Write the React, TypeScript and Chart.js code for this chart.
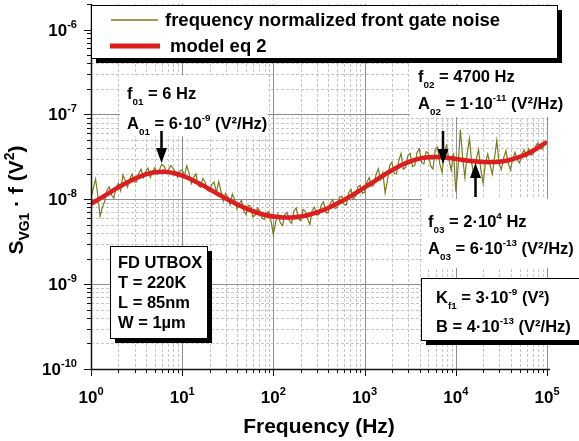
import React, { useEffect, useRef } from 'react';
import { Chart, registerables } from 'chart.js';

Chart.register(...registerables);

// ---- data (frequency in Hz, S_VG1·f in V²) ----
const FREQ = [
  1, 1.059, 1.122, 1.189, 1.259, 1.334, 1.413, 1.496, 1.585, 1.679, 1.778, 1.884, 1.995, 2.113, 2.239, 2.371, 2.512, 2.661, 2.818, 2.985,
  3.162, 3.35, 3.548, 3.758, 3.981, 4.217, 4.467, 4.732, 5.012, 5.309, 5.623, 5.957, 6.31, 6.683, 7.079, 7.499, 7.943, 8.414, 8.913, 9.441,
  10, 10.59, 11.22, 11.89, 12.59, 13.34, 14.13, 14.96, 15.85, 16.79, 17.78, 18.84, 19.95, 21.13, 22.39, 23.71, 25.12, 26.61, 28.18, 29.85,
  31.62, 33.5, 35.48, 37.58, 39.81, 42.17, 44.67, 47.32, 50.12, 53.09, 56.23, 59.57, 63.1, 66.83, 70.79, 74.99, 79.43, 84.14, 89.13, 94.41,
  100, 105.9, 112.2, 118.9, 125.9, 133.4, 141.3, 149.6, 158.5, 167.9, 177.8, 188.4, 199.5, 211.3, 223.9, 237.1, 251.2, 266.1, 281.8, 298.5,
  316.2, 335, 354.8, 375.8, 398.1, 421.7, 446.7, 473.2, 501.2, 530.9, 562.3, 595.7, 631, 668.3, 707.9, 749.9, 794.3, 841.4, 891.3, 944.1,
  1000, 1059, 1122, 1189, 1259, 1334, 1413, 1496, 1585, 1679, 1778, 1884, 1995, 2113, 2239, 2371, 2512, 2661, 2818, 2985,
  3162, 3350, 3548, 3758, 3981, 4217, 4467, 4732, 5012, 5309, 5623, 5957, 6310, 6683, 7079, 7499, 7943, 8414, 8913, 9441,
  10000, 10590, 11220, 11890, 12590, 13340, 14130, 14960, 15850, 16790, 17780, 18840, 19950, 21130, 22390, 23710, 25120, 26610, 28180, 29850,
  31620, 33500, 35480, 37580, 39810, 42170, 44670, 47320, 50120, 53090, 56230, 59570, 63100, 66830, 70790, 74990, 79430, 84140, 89130, 94410,
  100000,
];
const SPECTRUM = [
  10.1e-9, 13.5e-9, 17.3e-9, 11.0e-9, 6.3e-9, 8.1e-9, 9.4e-9, 12.8e-9, 14.0e-9, 11.2e-9, 10.3e-9, 13.9e-9, 15.4e-9, 12.6e-9, 19.4e-9, 16.8e-9, 13.9e-9, 17.2e-9, 19.8e-9, 15.9e-9,
  16.0e-9, 20.4e-9, 22.6e-9, 17.9e-9, 21.3e-9, 23.4e-9, 18.1e-9, 21.0e-9, 23.6e-9, 20.1e-9, 22.1e-9, 25.8e-9, 24.7e-9, 21.0e-9, 22.4e-9, 25.0e-9, 23.1e-9, 20.9e-9, 18.1e-9, 21.5e-9,
  22.3e-9, 19.0e-9, 24.9e-9, 20.5e-9, 15.3e-9, 18.0e-9, 19.9e-9, 14.6e-9, 13.9e-9, 17.5e-9, 16.1e-9, 12.8e-9, 12.4e-9, 14.9e-9, 16.0e-9, 11.9e-9, 16.2e-9, 12.5e-9, 9.5e-9, 11.8e-9,
  10.7e-9, 8.6e-9, 11.5e-9, 9.9e-9, 7.7e-9, 8.9e-9, 9.7e-9, 7.3e-9, 6.6e-9, 8.5e-9, 8.3e-9, 6.2e-9, 6.5e-9, 7.9e-9, 7.2e-9, 6.0e-9, 5.8e-9, 6.9e-9, 7.2e-9, 5.5e-9,
  3.8e-9, 5.4e-9, 6.7e-9, 5.3e-9, 4.9e-9, 6.6e-9, 7.0e-9, 5.6e-9, 5.2e-9, 7.3e-9, 7.9e-9, 5.9e-9, 5.6e-9, 7.6e-9, 7.2e-9, 5.9e-9, 5.05e-9, 7.4e-9, 8.1e-9, 6.5e-9,
  6.6e-9, 8.6e-9, 9.3e-9, 7.0e-9, 6.9e-9, 9.0e-9, 9.9e-9, 7.8e-9, 8.0e-9, 10.6e-9, 10.9e-9, 8.7e-9, 8.6e-9, 11.9e-9, 13.2e-9, 10.0e-9, 10.9e-9, 13.9e-9, 14.6e-9, 11.8e-9,
  12.1e-9, 15.9e-9, 18.0e-9, 14.2e-9, 14.5e-9, 19.6e-9, 22.9e-9, 17.0e-9, 20.6e-9, 11.9e-9, 16.5e-9, 24.8e-9, 27.3e-9, 20.1e-9, 19.9e-9, 28.6e-9, 34.8e-9, 22.6e-9, 23.8e-9, 33.0e-9,
  34.7e-9, 24.3e-9, 25.0e-9, 35.6e-9, 39.5e-9, 27.0e-9, 26.1e-9, 36.4e-9, 34.9e-9, 24.5e-9, 22.7e-9, 38.8e-9, 41.2e-9, 26.0e-9, 20.8e-9, 36.5e-9, 43.2e-9, 29.0e-9, 21.9e-9, 35.3e-9,
  12.3e-9, 24.0e-9, 66.2e-9, 30.5e-9, 18.0e-9, 35.0e-9, 51.8e-9, 26.5e-9, 18.7e-9, 30.2e-9, 38.4e-9, 22.0e-9, 15.4e-9, 27.0e-9, 34.1e-9, 25.6e-9, 19.8e-9, 30.8e-9, 49.3e-9, 26.0e-9,
  22.5e-9, 31.0e-9, 37.4e-9, 26.4e-9, 22.3e-9, 30.3e-9, 35.7e-9, 29.0e-9, 26.8e-9, 34.4e-9, 38.1e-9, 31.6e-9, 39.2e-9, 33.0e-9, 34.8e-9, 42.0e-9, 46.2e-9, 39.5e-9, 39.1e-9, 46.0e-9,
  46.2e-9,
];
const MODEL_FREQ = [
  1, 1.259, 1.585, 1.995, 2.512, 3.162, 3.981, 5.012, 6.31, 7.943,
  10, 12.59, 15.85, 19.95, 25.12, 31.62, 39.81, 50.12, 63.1, 79.43,
  100, 125.9, 158.5, 199.5, 251.2, 316.2, 398.1, 501.2, 631, 794.3,
  1000, 1259, 1585, 1995, 2512, 3162, 3981, 5012, 6310, 7943,
  10000, 12590, 15850, 19950, 25120, 31620, 39810, 50120, 63100, 79430,
  100000,
];
const MODEL = [
  8.85e-9, 10.25e-9, 11.91e-9, 13.8e-9, 15.85e-9, 17.88e-9, 19.63e-9, 20.76e-9, 21.04e-9, 20.39e-9,
  18.98e-9, 17.11e-9, 15.08e-9, 13.13e-9, 11.38e-9, 9.91e-9, 8.73e-9, 7.8e-9, 7.08e-9, 6.58e-9,
  6.25e-9, 6.1e-9, 6.1e-9, 6.27e-9, 6.62e-9, 7.15e-9, 7.89e-9, 8.89e-9, 10.17e-9, 11.79e-9,
  13.78e-9, 16.17e-9, 18.95e-9, 21.99e-9, 25.12e-9, 27.95e-9, 30.12e-9, 31.33e-9, 31.52e-9, 30.92e-9,
  29.91e-9, 28.86e-9, 28.0e-9, 27.48e-9, 27.4e-9, 27.91e-9, 29.2e-9, 31.55e-9, 35.18e-9, 40.38e-9,
  47.51e-9,
];
const X_EXP = [0, 1, 2, 3, 4, 5];
const Y_EXP = [-10, -9, -8, -7, -6];
const X_MIN = 1;
const X_MAX = 1e5;
const Y_MIN = 1e-10;
const Y_MAX = 2e-6;
const SERIES_NAMES = ['frequency normalized front gate noise', 'model eq 2'];
const X_TITLE = 'Frequency (Hz)';
const INFO_LINES = ['FD UTBOX', 'T = 220K', 'L = 85nm', 'W = 1µm'];

const OLIVE = '#7a7a1a';
const RED = '#dc1e1e';
const FONT = "'Liberation Sans', Arial, Helvetica, sans-serif";

type Part = [string, number]; // 0 normal, 1 superscript, 2 subscript

function drawRich(
  ctx: CanvasRenderingContext2D,
  x: number,
  y: number,
  parts: Part[],
  size: number,
  align: 'left' | 'center' | 'right' = 'left',
  supUp = 0.5,
  subDown = 0.33,
  small = 0.64,
) {
  const sm = size * small;
  let w = 0;
  for (const [t, k] of parts) {
    ctx.font = `bold ${k ? sm : size}px ${FONT}`;
    w += ctx.measureText(t).width;
  }
  let cx = align === 'center' ? x - w / 2 : align === 'right' ? x - w : x;
  ctx.textAlign = 'left';
  ctx.textBaseline = 'alphabetic';
  for (const [t, k] of parts) {
    ctx.font = `bold ${k ? sm : size}px ${FONT}`;
    const dy = k === 1 ? -size * supUp : k === 2 ? size * subDown : 0;
    ctx.fillText(t, cx, y + dy);
    cx += ctx.measureText(t).width;
  }
}

function arrow(ctx: CanvasRenderingContext2D, x: number, y0: number, y1: number) {
  const dir = y1 > y0 ? 1 : -1;
  const headLen = 15;
  const headW = 5.5;
  ctx.strokeStyle = '#000';
  ctx.lineWidth = 2.5;
  ctx.beginPath();
  ctx.moveTo(x, y0);
  ctx.lineTo(x, y1 - dir * headLen);
  ctx.stroke();
  ctx.fillStyle = '#000';
  ctx.beginPath();
  ctx.moveTo(x, y1);
  ctx.lineTo(x - headW, y1 - dir * headLen);
  ctx.lineTo(x + headW, y1 - dir * headLen);
  ctx.closePath();
  ctx.fill();
}

function shadowBox(ctx: CanvasRenderingContext2D, x: number, y: number, w: number, h: number, off: number) {
  ctx.fillStyle = '#000';
  ctx.fillRect(x + off, y + off, w, h);
  ctx.fillStyle = '#fff';
  ctx.fillRect(x, y, w, h);
  ctx.strokeStyle = '#000';
  ctx.lineWidth = 1;
  ctx.strokeRect(x + 0.5, y + 0.5, w, h);
}

const decor = {
  id: 'decor',
  beforeDatasetsDraw(chart: any) {
    const ctx: CanvasRenderingContext2D = chart.ctx;
    const xs = chart.scales.x;
    const ys = chart.scales.y;
    const ca = chart.chartArea;
    ctx.save();
    ctx.beginPath();
    ctx.rect(ca.left, ca.top, ca.right - ca.left + 1, ca.bottom - ca.top);
    ctx.clip();
    // minor grid
    ctx.strokeStyle = '#c6c6c6';
    ctx.lineWidth = 1;
    ctx.setLineDash([3, 2]);
    ctx.beginPath();
    for (const e of X_EXP) {
      for (let m = 2; m <= 9; m++) {
        const v = m * Math.pow(10, e);
        if (v > X_MAX) continue;
        const px = Math.round(xs.getPixelForValue(v)) + 0.5;
        ctx.moveTo(px, ca.top);
        ctx.lineTo(px, ca.bottom);
      }
    }
    for (const e of Y_EXP) {
      for (let m = 2; m <= 9; m++) {
        const v = m * Math.pow(10, e);
        if (v >= Y_MAX) continue;
        const py = Math.round(ys.getPixelForValue(v)) + 0.5;
        ctx.moveTo(ca.left, py);
        ctx.lineTo(ca.right, py);
      }
    }
    ctx.stroke();
    // major grid
    ctx.setLineDash([]);
    ctx.strokeStyle = '#8e8e8e';
    ctx.beginPath();
    for (const e of X_EXP) {
      const px = Math.round(xs.getPixelForValue(Math.pow(10, e))) + 0.5;
      ctx.moveTo(px, ca.top);
      ctx.lineTo(px, ca.bottom);
    }
    for (const e of Y_EXP) {
      const py = Math.round(ys.getPixelForValue(Math.pow(10, e))) + 0.5;
      ctx.moveTo(ca.left, py);
      ctx.lineTo(ca.right, py);
    }
    ctx.stroke();
    ctx.restore();

    // white backgrounds behind annotations
    ctx.save();
    ctx.fillStyle = '#fff';
    ctx.fillRect(120, 75, 148, 61);
    ctx.fillRect(410, 60, 165, 57);
    ctx.fillRect(422, 199, 157, 69);
    ctx.restore();
  },
  afterDatasetsDraw(chart: any) {
    const ctx: CanvasRenderingContext2D = chart.ctx;
    const xs = chart.scales.x;
    const ys = chart.scales.y;
    const ca = chart.chartArea;
    ctx.save();

    // axes lines
    ctx.strokeStyle = '#111';
    ctx.lineWidth = 1.5;
    ctx.beginPath();
    ctx.moveTo(ca.left + 0.5, ca.top);
    ctx.lineTo(ca.left + 0.5, ca.bottom + 0.5);
    ctx.lineTo(ca.right + 3, ca.bottom + 0.5);
    ctx.stroke();

    // ticks
    ctx.lineWidth = 1;
    ctx.beginPath();
    for (const e of X_EXP) {
      for (let m = 1; m <= 9; m++) {
        const v = m * Math.pow(10, e);
        if (v > X_MAX) continue;
        const px = Math.round(xs.getPixelForValue(v)) + 0.5;
        ctx.moveTo(px, ca.bottom);
        ctx.lineTo(px, ca.bottom + (m === 1 ? 7 : 4));
      }
    }
    for (const e of Y_EXP) {
      for (let m = 1; m <= 9; m++) {
        const v = m * Math.pow(10, e);
        if (v > Y_MAX) continue;
        const py = Math.round(ys.getPixelForValue(v)) + 0.5;
        ctx.moveTo(ca.left, py);
        ctx.lineTo(ca.left - (m === 1 ? 7 : 4), py);
      }
    }
    ctx.stroke();

    // tick labels
    ctx.fillStyle = '#000';
    for (const e of X_EXP) {
      const px = xs.getPixelForValue(Math.pow(10, e));
      drawRich(ctx, px, ca.bottom + 34, [['10', 0], [String(e), 1]], 17, 'center', 0.47, 0.3, 0.65);
    }
    for (const e of Y_EXP) {
      const py = ys.getPixelForValue(Math.pow(10, e));
      drawRich(ctx, ca.left - 14, py + 6, [['10', 0], [String(e), 1]], 17, 'right', 0.47, 0.3, 0.65);
    }

    // axis titles
    drawRich(ctx, (ca.left + ca.right) / 2, 433, [[X_TITLE, 0]], 21, 'center');
    ctx.save();
    ctx.translate(23, 200);
    ctx.rotate(-Math.PI / 2);
    drawRich(ctx, 0, 0, [['S', 0], ['VG1', 2], [' · f (V', 0], ['2', 1], [')', 0]], 21, 'center', 0.45, 0.3, 0.66);
    ctx.restore();

    // annotations
    ctx.fillStyle = '#000';
    const S = 16.5;
    drawRich(ctx, 127, 99, [['f', 0], ['01', 2], [' = 6 Hz', 0]], S, 'left', 0.5, 0.36, 0.6);
    drawRich(ctx, 127, 129, [['A', 0], ['01', 2], [' = 6·10', 0], ['-9', 1], [' (V²/Hz)', 0]], S, 'left', 0.5, 0.36, 0.6);
    drawRich(ctx, 418, 82, [['f', 0], ['02', 2], [' = 4700 Hz', 0]], S, 'left', 0.5, 0.36, 0.6);
    drawRich(ctx, 418, 109, [['A', 0], ['02', 2], [' = 1·10', 0], ['-11', 1], [' (V²/Hz)', 0]], S, 'left', 0.5, 0.36, 0.6);
    drawRich(ctx, 428, 227, [['f', 0], ['03', 2], [' = 2·10', 0], ['4', 1], [' Hz', 0]], S, 'left', 0.5, 0.36, 0.6);
    drawRich(ctx, 428, 254, [['A', 0], ['03', 2], [' = 6·10', 0], ['-13', 1], [' (V²/Hz)', 0]], S, 'left', 0.5, 0.36, 0.6);

    arrow(ctx, 161.5, 131, 163);
    arrow(ctx, 443, 131, 164);
    arrow(ctx, 475.5, 197, 163);

    // K / B box
    shadowBox(ctx, 421, 278, 200, 62, 5);
    ctx.fillStyle = '#000';
    drawRich(ctx, 436, 303, [['K', 0], ['f1', 2], [' = 3·10', 0], ['-9', 1], [' (V²)', 0]], S, 'left', 0.5, 0.36, 0.6);
    drawRich(ctx, 436, 332, [['B = 4·10', 0], ['-13', 1], [' (V²/Hz)', 0]], S, 'left', 0.5, 0.36, 0.6);

    // device box
    shadowBox(ctx, 110, 246, 97, 92, 5);
    ctx.fillStyle = '#000';
    INFO_LINES.forEach((t, i) => {
      drawRich(ctx, 118, 268 + i * 20, [[t, 0]], S);
    });

    // legend
    shadowBox(ctx, 91, 5, 466, 53, 5);
    ctx.strokeStyle = OLIVE;
    ctx.lineWidth = 1.5;
    ctx.beginPath();
    ctx.moveTo(111, 20);
    ctx.lineTo(158, 20);
    ctx.stroke();
    ctx.strokeStyle = RED;
    ctx.lineWidth = 5;
    ctx.beginPath();
    ctx.moveTo(110, 46);
    ctx.lineTo(160, 46);
    ctx.stroke();
    ctx.fillStyle = '#000';
    drawRich(ctx, 165, 26, [[SERIES_NAMES[0], 0]], 18.5);
    drawRich(ctx, 170, 52, [[SERIES_NAMES[1], 0]], 18.5);

    ctx.restore();
  },
};

export default function App() {
  const ref = useRef<HTMLCanvasElement>(null);
  useEffect(() => {
    const canvas = ref.current;
    if (!canvas) return;
    const chart = new Chart(canvas, {
      type: 'line',
      data: {
        datasets: [
          {
            label: SERIES_NAMES[1],
            data: MODEL_FREQ.map((f, i) => ({ x: f, y: MODEL[i] })),
            borderColor: RED,
            borderWidth: 4.5,
            pointRadius: 0,
            tension: 0.3,
            order: 0,
          },
          {
            label: SERIES_NAMES[0],
            data: FREQ.map((f, i) => ({ x: f, y: SPECTRUM[i] })),
            borderColor: OLIVE,
            borderWidth: 1.2,
            pointRadius: 0,
            tension: 0,
            order: 1,
          },
        ],
      },
      options: {
        animation: false,
        responsive: false,
        maintainAspectRatio: false,
        layout: { padding: { top: 4, right: 32, left: 0, bottom: 0 } },
        plugins: { legend: { display: false }, tooltip: { enabled: false } },
        scales: {
          x: {
            type: 'logarithmic',
            min: X_MIN,
            max: X_MAX,
            ticks: { display: false },
            grid: { display: false },
            border: { display: false },
            afterFit: (s: any) => {
              s.height = 72;
            },
          },
          y: {
            type: 'logarithmic',
            min: Y_MIN,
            max: Y_MAX,
            ticks: { display: false },
            grid: { display: false },
            border: { display: false },
            afterFit: (s: any) => {
              s.width = 91;
            },
          },
        },
      } as any,
      plugins: [decor],
    });
    return () => chart.destroy();
  }, []);
  return (
    <div style={{ position: 'absolute', left: 0, top: 0, width: 579, height: 441, background: '#fff' }}>
      <canvas ref={ref} width={579} height={441} style={{ display: 'block', width: 579, height: 441 }} />
    </div>
  );
}
